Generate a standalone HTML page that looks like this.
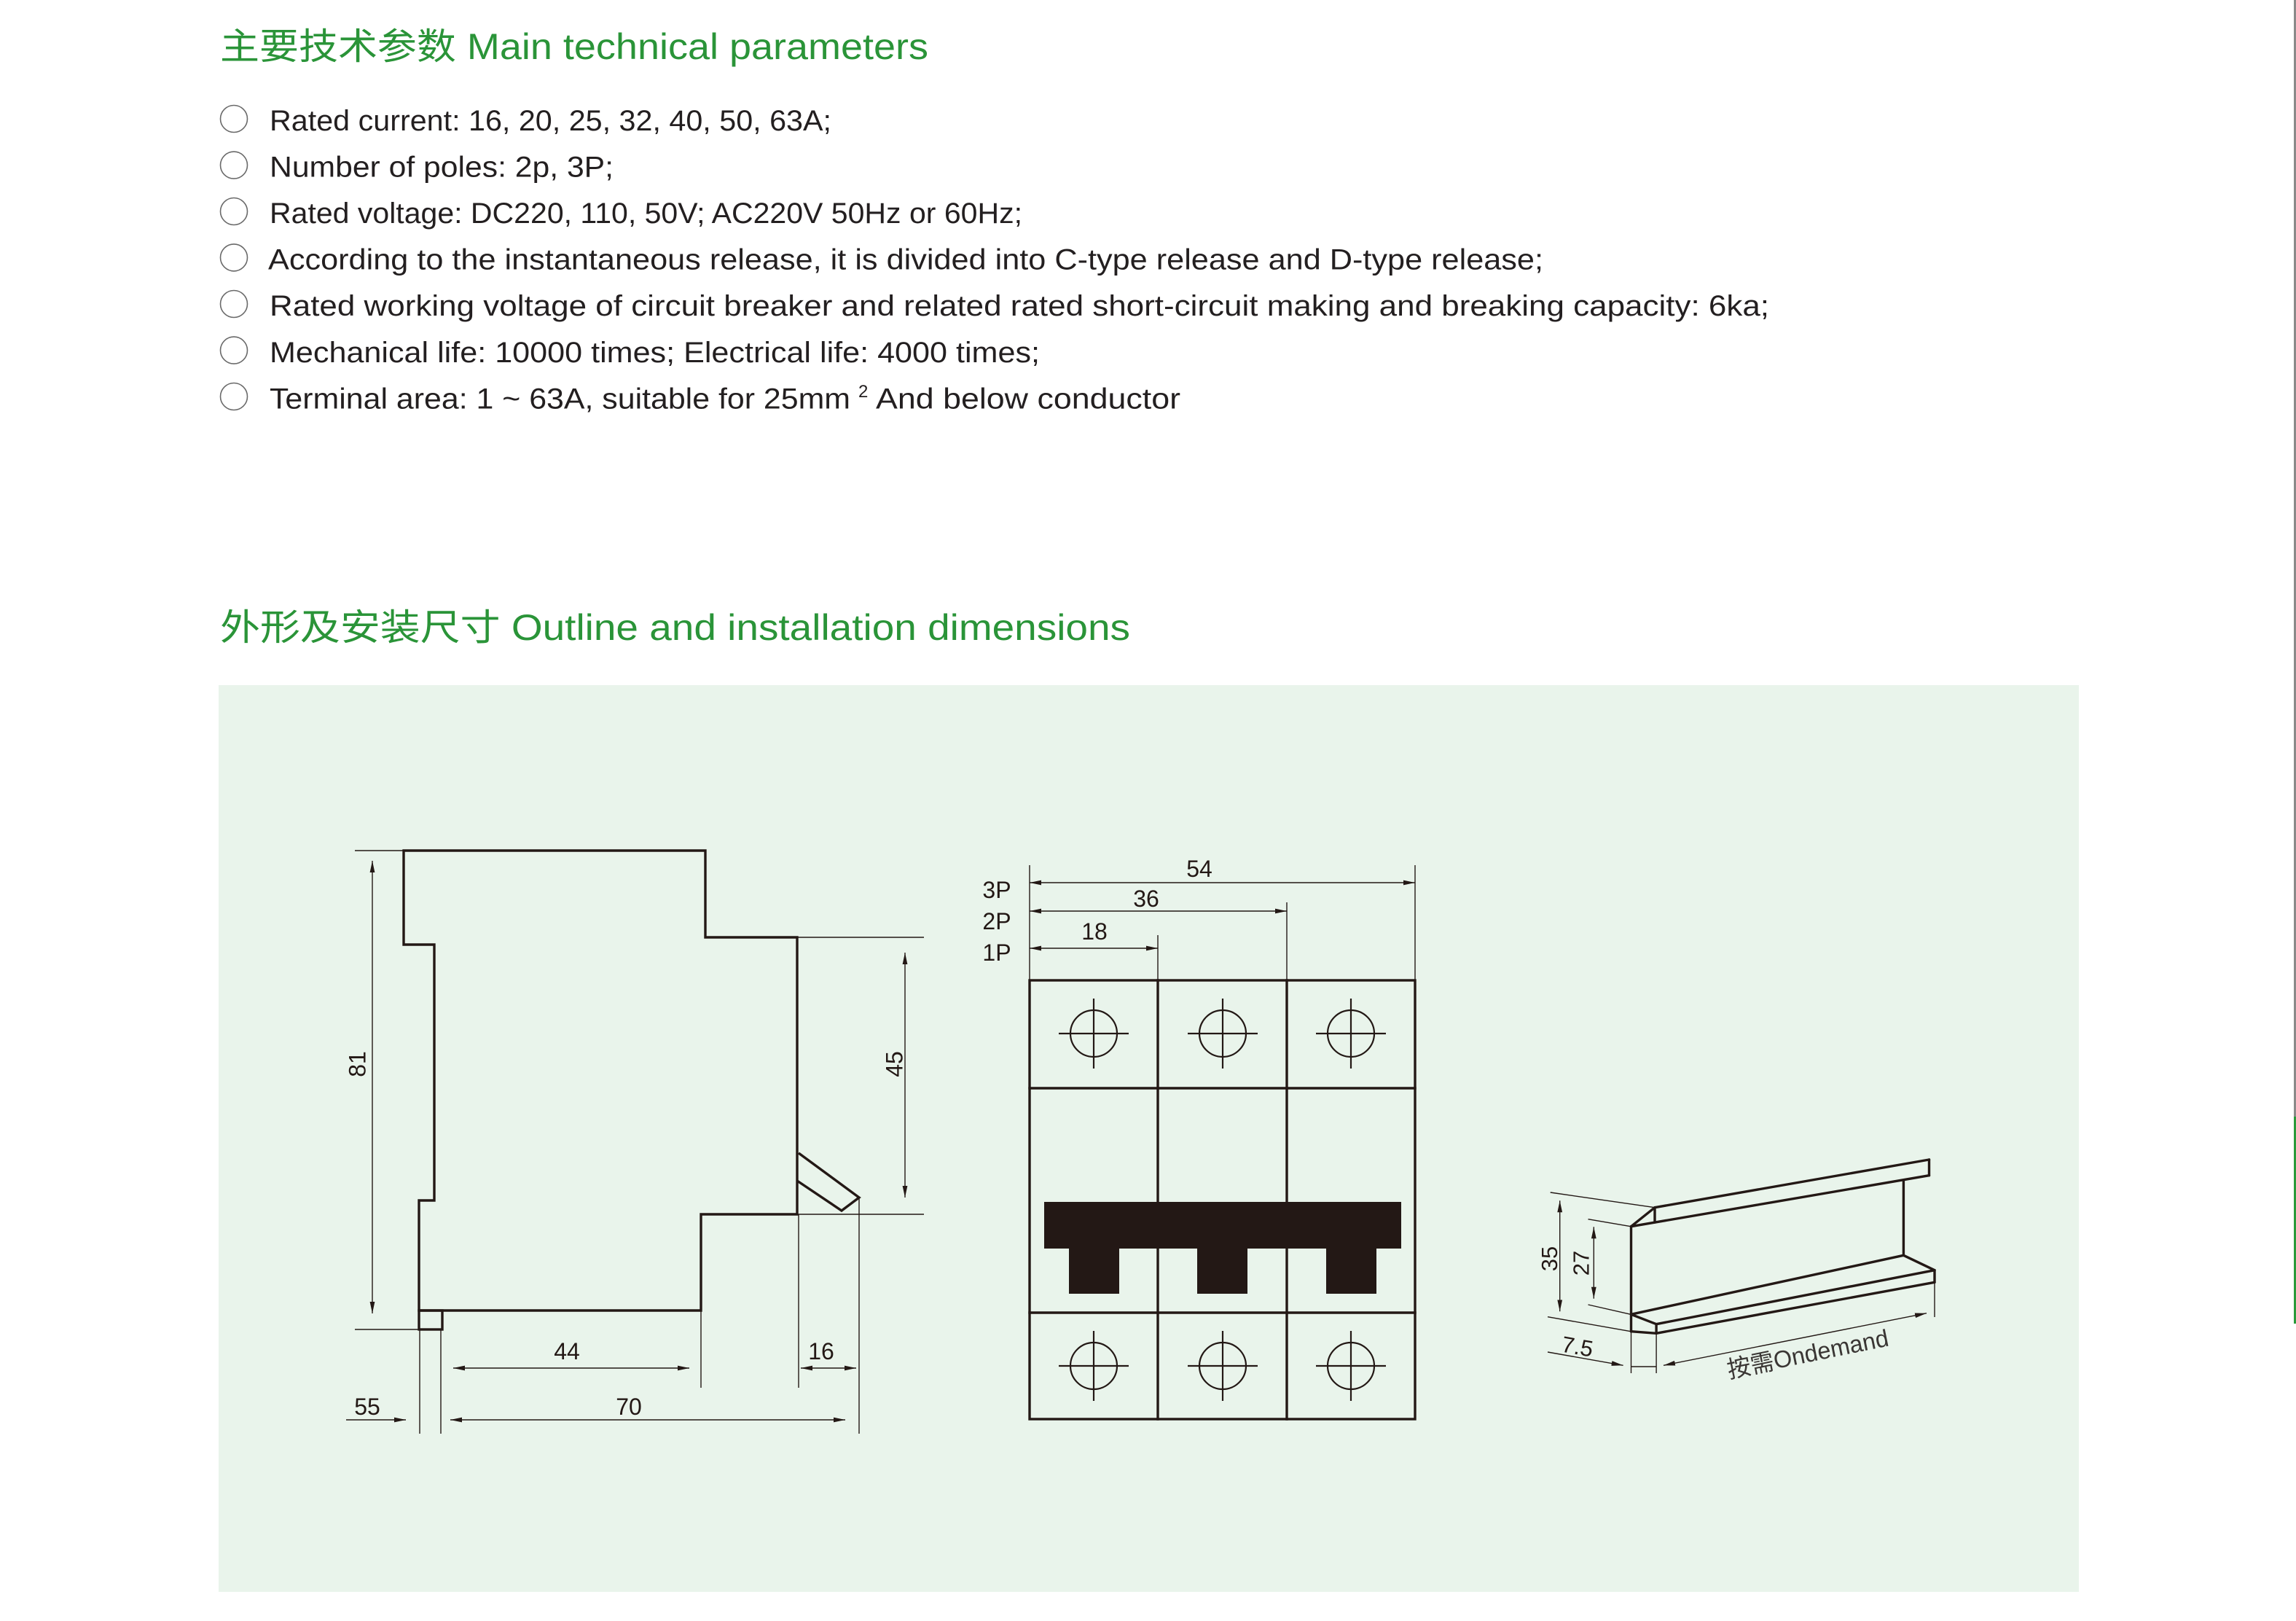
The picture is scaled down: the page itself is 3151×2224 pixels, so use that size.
<!DOCTYPE html>
<html>
<head>
<meta charset="utf-8">
<style>
  html,body{margin:0;padding:0;background:#fff;}
  body{width:3151px;height:2224px;overflow:hidden;}
  svg{display:block;}
  .h{font-family:"Liberation Sans","Noto Sans CJK SC",sans-serif;fill:#2a9438;font-size:50px;}
  .b{font-family:"Liberation Sans","Noto Sans CJK SC",sans-serif;fill:#231f20;font-size:40px;}
  .d{font-family:"Liberation Sans","Noto Sans CJK SC",sans-serif;fill:#231815;font-size:32px;}
  .thick{stroke:#231815;stroke-width:3.4;fill:none;stroke-linejoin:miter;stroke-linecap:square;}
  .med{stroke:#231815;stroke-width:2.2;fill:none;}
  .thin{stroke:#231815;stroke-width:1.4;fill:none;}
  .dim{stroke:#231815;stroke-width:1.4;fill:none;marker-start:url(#ar);marker-end:url(#ar);}
  .dim1{stroke:#231815;stroke-width:1.4;fill:none;marker-end:url(#ar);}
  .bul{fill:none;stroke:#6a6a6a;stroke-width:1.6;}
</style>
</head>
<body>
<svg width="3151" height="2224" viewBox="0 0 3151 2224" xmlns="http://www.w3.org/2000/svg">
  <defs>
    <marker id="ar" viewBox="0 0 16 8" refX="16" refY="4" markerWidth="16" markerHeight="8" markerUnits="userSpaceOnUse" orient="auto-start-reverse">
      <path d="M0,0.6 L16,4 L0,7.4 Z" fill="#231815"/>
    </marker>
  </defs>

  <rect x="0" y="0" width="3151" height="2224" fill="#ffffff"/>
  <!-- right edge artifacts -->
  <rect x="3148" y="0" width="3" height="1532" fill="#8a8a8a"/>
  <rect x="3148" y="1532" width="3" height="284" fill="#2a9a3a"/>

  <!-- Heading 1 -->
  <text class="h" x="302" y="81" textLength="972" lengthAdjust="spacingAndGlyphs">主要技术参数 Main technical parameters</text>

  <!-- bullets -->
  <circle class="bul" cx="321" cy="163" r="18.5"/>
  <circle class="bul" cx="321" cy="226.6" r="18.5"/>
  <circle class="bul" cx="321" cy="290" r="18.5"/>
  <circle class="bul" cx="321" cy="353.4" r="18.5"/>
  <circle class="bul" cx="321" cy="417" r="18.5"/>
  <circle class="bul" cx="321" cy="480.6" r="18.5"/>
  <circle class="bul" cx="321" cy="544" r="18.5"/>

  <text class="b" x="370" y="179" textLength="771" lengthAdjust="spacingAndGlyphs">Rated current: 16, 20, 25, 32, 40, 50, 63A;</text>
  <text class="b" x="370" y="242.5" textLength="472" lengthAdjust="spacingAndGlyphs">Number of poles: 2p, 3P;</text>
  <text class="b" x="370" y="306" textLength="1033" lengthAdjust="spacingAndGlyphs">Rated voltage: DC220, 110, 50V; AC220V 50Hz or 60Hz;</text>
  <text class="b" x="368" y="369.5" textLength="1750" lengthAdjust="spacingAndGlyphs">According to the instantaneous release, it is divided into C-type release and D-type release;</text>
  <text class="b" x="370" y="433" textLength="2058" lengthAdjust="spacingAndGlyphs">Rated working voltage of circuit breaker and related rated short-circuit making and breaking capacity: 6ka;</text>
  <text class="b" x="370" y="497" textLength="1057" lengthAdjust="spacingAndGlyphs">Mechanical life: 10000 times; Electrical life: 4000 times;</text>
  <text class="b" x="370" y="560.5" textLength="797" lengthAdjust="spacingAndGlyphs">Terminal area: 1 ~ 63A, suitable for 25mm</text>
  <text class="b" x="1178" y="545" style="font-size:24px">2</text>
  <text class="b" x="1202" y="560.5" textLength="418" lengthAdjust="spacingAndGlyphs">And below conductor</text>

  <!-- Heading 2 -->
  <text class="h" x="302" y="878" textLength="1249" lengthAdjust="spacingAndGlyphs">外形及安装尺寸 Outline and installation dimensions</text>

  <!-- green panel -->
  <rect x="300" y="940" width="2553" height="1244" fill="#e9f4eb"/>

  <!-- ============ LEFT SIDE VIEW ============ -->
  <path class="thick" d="M554,1167 H968 V1286 H1094 V1666 H962 V1798 H575 V1647 H596 V1296 H554 Z"/>
  <rect class="thick" x="575" y="1798" width="32" height="26"/>
  <!-- handle -->
  <path class="thick" style="stroke-linecap:butt" d="M1096,1582 L1179,1643 L1155,1661 L1094,1620"/>

  <!-- extension lines -->
  <line class="thin" x1="487" y1="1167" x2="554" y2="1167"/>
  <line class="thin" x1="487" y1="1824" x2="575" y2="1824"/>
  <line class="thin" x1="1094" y1="1286" x2="1268" y2="1286"/>
  <line class="thin" x1="1094" y1="1666" x2="1268" y2="1666"/>
  <line class="thin" x1="962" y1="1798" x2="962" y2="1904"/>
  <line class="thin" x1="1096" y1="1666" x2="1096" y2="1904"/>
  <line class="thin" x1="1179" y1="1643" x2="1179" y2="1967"/>
  <line class="thin" x1="576" y1="1824" x2="576" y2="1967"/>
  <line class="thin" x1="605" y1="1824" x2="605" y2="1967"/>

  <!-- dims -->
  <line class="dim" x1="511" y1="1181" x2="511" y2="1802"/>
  <line class="dim" x1="1242" y1="1307" x2="1242" y2="1643"/>
  <line class="dim" x1="622" y1="1877" x2="946" y2="1877"/>
  <line class="dim" x1="1099" y1="1877" x2="1175" y2="1877"/>
  <line class="dim" x1="618" y1="1948" x2="1160" y2="1948"/>
  <line class="dim1" x1="475" y1="1948" x2="557" y2="1948"/>

  <text class="d" text-anchor="middle" transform="translate(490,1460) rotate(-90)" x="0" y="11.5">81</text>
  <text class="d" text-anchor="middle" transform="translate(1227,1460) rotate(-90)" x="0" y="11.5">45</text>
  <text class="d" text-anchor="middle" x="778" y="1865">44</text>
  <text class="d" text-anchor="middle" x="1127" y="1865">16</text>
  <text class="d" text-anchor="middle" x="863" y="1941">70</text>
  <text class="d" text-anchor="middle" x="504" y="1941">55</text>

  <!-- ============ MIDDLE FRONT VIEW ============ -->
  <rect class="thick" x="1413" y="1345" width="529" height="602"/>
  <line class="thick" x1="1413" y1="1493" x2="1942" y2="1493"/>
  <line class="thick" x1="1413" y1="1801" x2="1942" y2="1801"/>
  <line class="thick" x1="1589" y1="1345" x2="1589" y2="1947"/>
  <line class="thick" x1="1766" y1="1345" x2="1766" y2="1947"/>

  <!-- handle bar -->
  <path d="M1433,1649 H1923 V1713 H1889 V1775 H1820 V1713 H1712 V1775 H1643 V1713 H1536 V1775 H1467 V1713 H1433 Z" fill="#231815"/>

  <!-- terminals top -->
  <g class="med">
    <circle cx="1501" cy="1418" r="32"/>
    <line x1="1453" y1="1418" x2="1549" y2="1418"/><line x1="1501" y1="1370" x2="1501" y2="1466"/>
    <circle cx="1678" cy="1418" r="32"/>
    <line x1="1630" y1="1418" x2="1726" y2="1418"/><line x1="1678" y1="1370" x2="1678" y2="1466"/>
    <circle cx="1854" cy="1418" r="32"/>
    <line x1="1806" y1="1418" x2="1902" y2="1418"/><line x1="1854" y1="1370" x2="1854" y2="1466"/>
    <circle cx="1501" cy="1874" r="32"/>
    <line x1="1453" y1="1874" x2="1549" y2="1874"/><line x1="1501" y1="1826" x2="1501" y2="1922"/>
    <circle cx="1678" cy="1874" r="32"/>
    <line x1="1630" y1="1874" x2="1726" y2="1874"/><line x1="1678" y1="1826" x2="1678" y2="1922"/>
    <circle cx="1854" cy="1874" r="32"/>
    <line x1="1806" y1="1874" x2="1902" y2="1874"/><line x1="1854" y1="1826" x2="1854" y2="1922"/>
  </g>

  <!-- extension lines -->
  <line class="thin" x1="1413" y1="1187" x2="1413" y2="1345"/>
  <line class="thin" x1="1589" y1="1283" x2="1589" y2="1345"/>
  <line class="thin" x1="1766" y1="1238" x2="1766" y2="1345"/>
  <line class="thin" x1="1942" y1="1187" x2="1942" y2="1345"/>
  <line class="dim" x1="1413" y1="1211" x2="1942" y2="1211"/>
  <line class="dim" x1="1413" y1="1250" x2="1766" y2="1250"/>
  <line class="dim" x1="1413" y1="1301" x2="1589" y2="1301"/>

  <text class="d" text-anchor="middle" x="1646" y="1203">54</text>
  <text class="d" text-anchor="middle" x="1573" y="1244">36</text>
  <text class="d" text-anchor="middle" x="1502" y="1289">18</text>
  <text class="d" text-anchor="middle" x="1368" y="1232">3P</text>
  <text class="d" text-anchor="middle" x="1368" y="1275">2P</text>
  <text class="d" text-anchor="middle" x="1368" y="1318">1P</text>

  <!-- ============ RIGHT DIN RAIL ============ -->
  <g class="thick" style="stroke-linecap:round;stroke-linejoin:round">
    <line x1="2271" y1="1656.7" x2="2647.5" y2="1591"/>
    <line x1="2647.5" y1="1591" x2="2647.5" y2="1612.7"/>
    <line x1="2238.5" y1="1682.7" x2="2647.5" y2="1612.7"/>
    <line x1="2238.5" y1="1682.7" x2="2271" y2="1656.7"/>
    <line x1="2271" y1="1656.7" x2="2271" y2="1677"/>
    <line x1="2612.4" y1="1619.3" x2="2612.4" y2="1722.3"/>
    <line x1="2238.5" y1="1682.7" x2="2238.5" y2="1826.7"/>
    <line x1="2238.5" y1="1803.3" x2="2612.4" y2="1722.3"/>
    <line x1="2612.4" y1="1722.3" x2="2655" y2="1742.7"/>
    <line x1="2273.1" y1="1816.7" x2="2655" y2="1742.7"/>
    <line x1="2273.1" y1="1829.3" x2="2655" y2="1759.3"/>
    <line x1="2655" y1="1742.7" x2="2655" y2="1759.3"/>
    <line x1="2238.5" y1="1803.3" x2="2273.1" y2="1816.7"/>
    <line x1="2238.5" y1="1826.7" x2="2273.1" y2="1829.3"/>
    <line x1="2273.1" y1="1816.7" x2="2273.1" y2="1829.3"/>
  </g>

  <!-- rail dims -->
  <line class="thin" x1="2127.7" y1="1636" x2="2271" y2="1656.7"/>
  <line class="thin" x1="2179.5" y1="1672.7" x2="2238" y2="1682.7"/>
  <line class="thin" x1="2179.5" y1="1790" x2="2238" y2="1803.3"/>
  <line class="thin" x1="2124" y1="1806.7" x2="2238" y2="1826.7"/>
  <line class="dim" x1="2140.7" y1="1647.3" x2="2140.7" y2="1799.3"/>
  <line class="dim" x1="2187.3" y1="1683.3" x2="2187.3" y2="1781.7"/>
  <line class="thin" x1="2238.5" y1="1826.7" x2="2238.5" y2="1884"/>
  <line class="thin" x1="2273.1" y1="1829.3" x2="2273.1" y2="1884"/>
  <line class="thin" x1="2238.5" y1="1875" x2="2273.1" y2="1875"/>
  <line class="dim1" x1="2124" y1="1855" x2="2227.6" y2="1873.3"/>
  <line class="dim" x1="2283" y1="1873.3" x2="2644" y2="1801.7"/>
  <line class="thin" x1="2655" y1="1759.3" x2="2655" y2="1807"/>

  <text class="d" style="font-size:31px" text-anchor="middle" transform="translate(2126,1727) rotate(-90)" x="0" y="11">35</text>
  <text class="d" style="font-size:31px" text-anchor="middle" transform="translate(2169.5,1733) rotate(-90)" x="0" y="11">27</text>
  <text class="d" style="font-size:31px" text-anchor="middle" transform="translate(2163,1858) rotate(10)" x="0" y="0">7.5</text>
  <text class="d" style="font-size:33px;fill:#3a3634" transform="translate(2373,1891) rotate(-11.5)" x="0" y="0" textLength="225" lengthAdjust="spacingAndGlyphs">按需Ondemand</text>
</svg>
</body>
</html>
